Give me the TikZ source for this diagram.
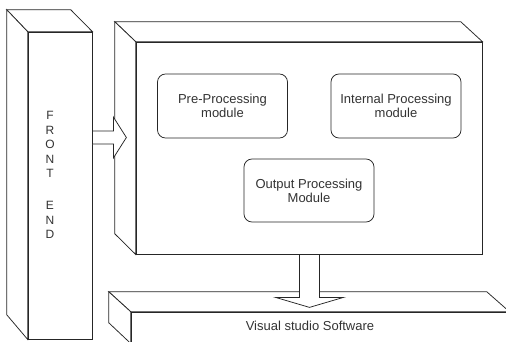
\documentclass[tikz,border=0pt]{standalone}
\usepackage{fontspec}
\setmainfont{Liberation Sans}
\usetikzlibrary{calc}

\tikzset{
  face/.style={draw=black!85, fill=white, line width=0.75pt, inner sep=0pt},
  side/.style={draw=black!85, fill=white, line width=0.75pt},
  module/.style={draw=black!85, line width=0.75pt, rounded corners=8pt, minimum width=130pt,
    minimum height=64pt, align=center, text=black!80, font=\fontsize{13}{14}\selectfont},
  blockarrow/.style={draw=black!85, fill=white, line width=0.75pt},
}

\begin{document}
\begin{tikzpicture}[x=1pt,y=-1pt]
    \useasboundingbox (0,0) rectangle (506,341);
    \clip (0,0) rectangle (506,341);
    % front end
    \node[face, minimum width=64pt, minimum height=307pt] (fe) at (60,185.5) {};
    \draw[side] (fe.north west) -- ++(-21,-22) -- ++(64,0) -- (fe.north east) -- cycle;
    \draw[side] (fe.north west) -- ++(-21,-22) -- ++(0,305) -- (fe.south west) -- cycle;
    \node[align=center, text=black!80, font=\fontsize{12}{14.5}\selectfont] (fetext) at (50,175)
      {F\\R\\O\\N\\T\\[17.5pt]E\\N\\D};
    %
    \node[face, minimum width=346pt, minimum height=212pt] (main) at (309,148) {};
    \draw[side] (main.north west) -- ++(-21,-20) -- ++(346,0) -- (main.north east) -- cycle;
    \draw[side] (main.north west) -- ++(-21,-20) -- ++(0,212) -- (main.south west) -- cycle;
    \node[module] (pre) at (222.5,106) {Pre-Processing\\module};
    \node[module] (internal) at (396,106) {Internal Processing\\module};
    \node[module, minimum height=63pt] (output) at (309,190.5) {Output Processing\\Module};
    %
    \node[face, minimum width=378pt, minimum height=31pt] (vs) at (320,327.5) {};
    \draw[side] (vs.north west) -- ++(-22,-20) -- ++(378,0) -- (vs.north east) -- cycle;
    \draw[side] (vs.north west) -- ++(-22,-20) -- ++(0,31) -- (vs.south west) -- cycle;
    \node[text=black!80, font=\fontsize{13}{14}\selectfont] (vstext) at (310,326) {Visual studio Software};
    %
    \coordinate (a1) at ($(fe.east)+(0,-48)$);
    \draw[blockarrow] (a1) ++(0,-6.5) -- ++(21,0) -- ++(0,-14) -- ++(13,20.5)
      -- ++(-13,20.5) -- ++(0,-14) -- ++(-21,0) -- cycle;
    \draw[blockarrow] (main.south) ++(-9.5,0) -- ++(0,43) -- ++(-24,0) -- ++(34,10)
      -- ++(34,-10) -- ++(-24,0) -- ++(0,-43) -- cycle;
\end{tikzpicture}
\end{document}
